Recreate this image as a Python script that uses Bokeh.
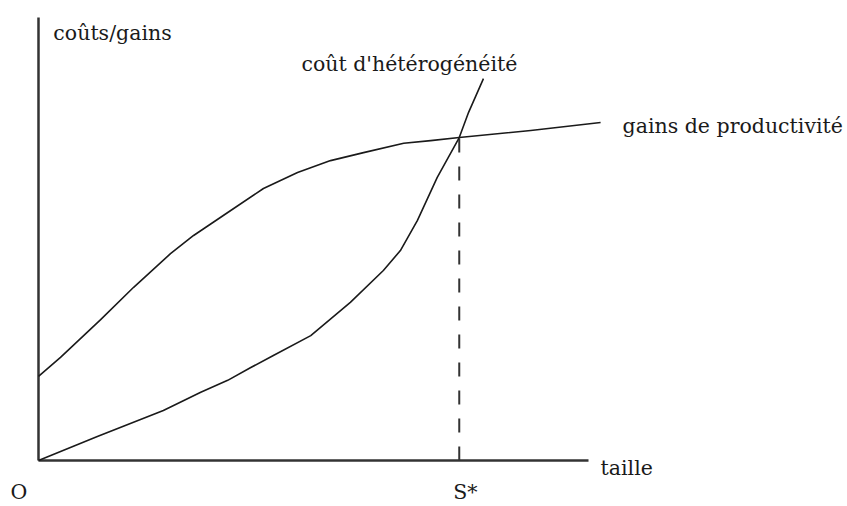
from bokeh.plotting import figure
from bokeh.models import Range1d
from bokeh.core.properties import value
from bokeh.embed import file_html
from bokeh.resources import INLINE

# Data (x = taille, y = coûts/gains, arbitrary units: axis 0..100)
prod_x = [0, 4, 11.3, 17.3, 24, 28.2, 33.6, 40.9, 47.1, 53.1, 59.1, 66.4, 71.3, 76.5, 89.5, 102.2]
prod_y = [19.0, 23.3, 31.8, 39.1, 46.7, 50.8, 55.3, 61.4, 65.0, 67.7, 69.5, 71.6, 72.2, 72.9, 74.5, 76.3]

cost_x = [0, 10.7, 22.7, 29.5, 34.4, 38.6, 42.7, 49.5, 56.7, 62.7, 65.8, 68.9, 72.5, 76.5, 78.2, 80.9]
cost_y = [0, 5.4, 11.3, 15.4, 18.1, 21.0, 23.7, 28.2, 35.7, 42.9, 47.4, 54.2, 63.9, 72.9, 78.6, 86.2]

s_star = 76.5
s_star_y = 72.9
axis_max_x = 100
axis_max_y = 100

labels = ["coûts/gains", "coût d'hétérogénéité", "gains de productivité", "taille", "S*", "O"]

font = value("DejaVu Serif")
fsize = "20.5px"
ink = "#1a1a1a"

p = figure(width=847, height=506,
           x_range=Range1d(-6.909, 147.09), y_range=Range1d(-10.38, 103.84),
           x_axis_type=None, y_axis_type=None,
           output_backend="svg", toolbar_location=None, min_border=0)
p.grid.visible = False
p.outline_line_color = None
p.background_fill_color = "white"
p.border_fill_color = "white"

# axes
p.segment(x0=[0, 0], y0=[0, 0], x1=[0, axis_max_x], y1=[axis_max_y, 0],
          line_color="#333333", line_width=2.5)

# dashed S* line
p.segment(x0=[s_star], y0=[0], x1=[s_star], y1=[s_star_y],
          line_color="#333333", line_width=2, line_dash="14 14")

# curves
p.line(prod_x, prod_y, line_color=ink, line_width=1.6, line_join="round")
p.line(cost_x, cost_y, line_color=ink, line_width=1.6, line_join="round")

# texts
def txt(x, y, t, align="left"):
    p.text(x=[x], y=[y], text=[t], text_font=font, text_font_size=fsize,
           text_color=ink, text_align=align, text_baseline="alphabetic")

txt(2.7, 96.6, labels[0])
txt(47.8, 89.4, labels[1])
txt(106.2, 75.4, labels[2])
txt(102.2, -1.8, labels[3])
txt(75.4, -7.2, labels[4])
txt(-5.1, -7.2, labels[5])

open("out.html", "w").write(file_html(p, INLINE))
